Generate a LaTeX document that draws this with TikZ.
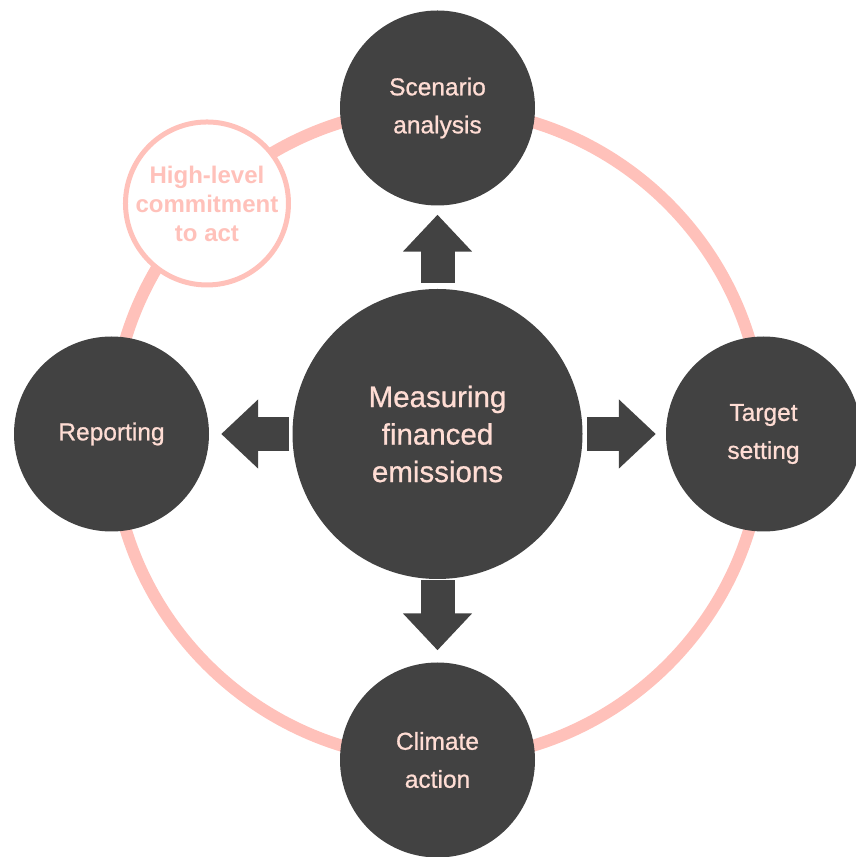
\documentclass[tikz,border=0pt]{standalone}
\usepackage{fontspec}
\setmainfont{Liberation Sans}
\newfontfamily\medfont{Liberation Sans}[FakeBold=0.8]
\usetikzlibrary{arrows.meta,calc}
\definecolor{darkgrey}{HTML}{424242}
\definecolor{ringpink}{HTML}{FFC1BA}
\definecolor{textpink}{HTML}{FFDDD4}

\begin{document}
\begin{tikzpicture}[x=1pt,y=1pt,
    stepcircle/.style={circle,fill=darkgrey,minimum size=195pt,inner sep=0pt,
      text=textpink,align=center,font=\medfont\fontsize{24.5}{38}\selectfont},
    blockarrow/.style={draw=darkgrey,line width=34pt,
      -{Triangle[length=37pt,width=67pt]}}]
  \clip (0,0) rectangle (856,857);

  % ring
  \coordinate (o) at (437.5,423);
  \draw[ringpink,line width=12pt] (o) circle (326);

  \node[circle,draw=ringpink,line width=5pt,fill=white,minimum size=163pt,inner sep=0pt,
    text=ringpink,align=center,font=\bfseries\fontsize{24}{29}\selectfont]
    (commit) at ($(o)+(135:326)$) {High-level\\commitment\\to act};

  % steps
  \node[stepcircle] (scen) at ($(o)+(0,326)$) {Scenario\\analysis};
  \node[stepcircle] (target) at ($(o)+(326,0)$) {Target\\setting};
  \node[stepcircle] (climate) at ($(o)+(0,-326)$) {Climate\\action};
  \node[stepcircle] (report) at ($(o)+(-326,0)$) {Reporting};

  \node[circle,fill=darkgrey,minimum size=290pt,inner sep=0pt,text=textpink,
    align=center,font=\medfont\fontsize{29.5}{37.5}\selectfont]
    (meas) at (o) {Measuring\\financed\\emissions};

  % arrows
  \draw[blockarrow] ([yshift=6pt]meas.north) -- ([yshift=-9pt]scen.south);
  \draw[blockarrow] ([xshift=4.5pt]meas.east) -- ([xshift=-10pt]target.west);
  \draw[blockarrow] ([yshift=-1pt]meas.south) -- ([yshift=12pt]climate.north);
  \draw[blockarrow] ([xshift=-3pt]meas.west) -- ([xshift=12pt]report.east);
\end{tikzpicture}
\end{document}
